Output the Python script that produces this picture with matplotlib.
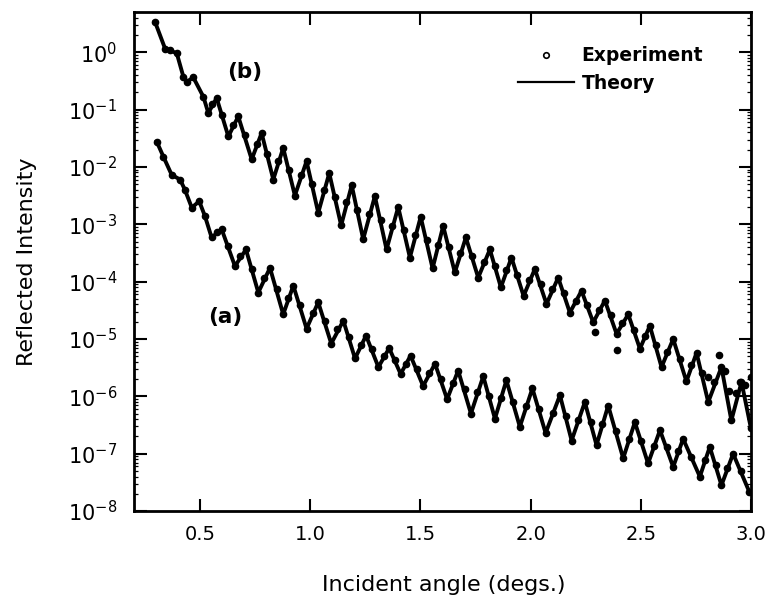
import numpy as np
import matplotlib
matplotlib.use("Agg")
from matplotlib import pyplot as plt
from matplotlib.lines import Line2D
from matplotlib.ticker import LogLocator

plt.rcParams['font.family'] = ['DejaVu Sans']
plt.rcParams['mathtext.fontset'] = 'dejavusans'

# curve (b): theory, angle (degs) and log10 of reflected intensity
b_x = [0.295, 0.341, 0.363, 0.394, 0.424, 0.439, 0.469, 0.515, 0.537,
       0.575, 0.628, 0.673, 0.734, 0.779, 0.832, 0.877, 0.930, 0.983, 1.036,
       1.086, 1.140, 1.188, 1.240, 1.293, 1.346, 1.399, 1.452, 1.501, 1.555,
       1.603, 1.656, 1.706, 1.762, 1.815, 1.865, 1.913, 1.968, 2.019, 2.072,
       2.125, 2.178, 2.231, 2.284, 2.337, 2.390, 2.443, 2.496, 2.541, 2.594,
       2.647, 2.707, 2.753, 2.806, 2.866, 2.911, 2.957, 3.000]
b_log = [0.53, 0.06, 0.03, -0.02, -0.43, -0.52, -0.44, -0.78, -1.06,
         -0.80, -1.47, -1.12, -1.87, -1.41, -2.22, -1.67, -2.50, -1.90, -2.80,
         -2.11, -3.02, -2.32, -3.26, -2.51, -3.44, -2.70, -3.58, -2.87, -3.77,
         -3.03, -3.84, -3.23, -3.93, -3.44, -4.10, -3.58, -4.25, -3.78, -4.39,
         -3.93, -4.54, -4.16, -4.71, -4.33, -4.91, -4.57, -5.17, -4.77, -5.49,
         -5.00, -5.74, -5.24, -6.10, -5.49, -6.42, -5.75, -6.56]

# curve (b): extra experimental points along the slopes and scattered ones
b_exp_x = [0.556, 0.601, 0.650, 0.703, 0.756, 0.805, 0.854, 0.903, 0.956,
           1.009, 1.061, 1.113, 1.164, 1.214, 1.266, 1.320, 1.372, 1.425,
           1.476, 1.528, 1.579, 1.630, 1.681, 1.734, 1.788, 1.840, 1.889,
           1.940, 1.993, 2.045, 2.098, 2.151, 2.204, 2.257, 2.310, 2.363,
           2.416, 2.469, 2.518, 2.567, 2.620, 2.677, 2.730, 2.780,
           2.290, 2.390, 2.806, 2.830, 2.854, 2.880, 2.900, 2.930, 2.950,
           2.975, 3.000]
b_exp_log = [-0.90, -1.10, -1.27, -1.45, -1.60, -1.78, -1.90, -2.05, -2.15,
             -2.30, -2.40, -2.52, -2.62, -2.75, -2.83, -2.93, -3.03, -3.10,
             -3.18, -3.27, -3.36, -3.40, -3.50, -3.55, -3.65, -3.73, -3.80,
             -3.88, -3.98, -4.05, -4.13, -4.20, -4.33, -4.41, -4.50, -4.59,
             -4.72, -4.85, -4.94, -5.10, -5.22, -5.35, -5.46, -5.60,
             -4.87, -5.20, -5.67, -5.75, -5.28, -5.55, -5.90, -5.95, -5.75,
             -5.80, -5.66]

# curve (a): theory
a_x = [0.303, 0.333, 0.371, 0.409, 0.431, 0.462, 0.496, 0.522, 0.552,
       0.598, 0.658, 0.708, 0.764, 0.817, 0.877, 0.923, 0.983, 1.036, 1.095,
       1.150, 1.203, 1.253, 1.309, 1.358, 1.410, 1.455, 1.512, 1.566, 1.621,
       1.671, 1.729, 1.785, 1.838, 1.890, 1.951, 2.008, 2.068, 2.133, 2.186,
       2.246, 2.299, 2.352, 2.420, 2.473, 2.533, 2.587, 2.647, 2.692, 2.768,
       2.813, 2.866, 2.919, 2.992]
a_log = [-1.56, -1.82, -2.14, -2.22, -2.40, -2.71, -2.60, -2.86, -3.23,
         -3.09, -3.73, -3.44, -4.19, -3.76, -4.57, -4.07, -4.82, -4.36, -5.08,
         -4.68, -5.34, -4.94, -5.49, -5.16, -5.61, -5.29, -5.82, -5.43, -6.05,
         -5.55, -6.30, -5.65, -6.39, -5.72, -6.53, -5.86, -6.64, -5.98, -6.77,
         -6.10, -6.85, -6.16, -7.08, -6.45, -7.17, -6.59, -7.23, -6.74, -7.40,
         -6.88, -7.55, -7.00, -7.66]

a_exp_x = [0.575, 0.628, 0.683, 0.736, 0.790, 0.847, 0.900, 0.953, 1.010,
           1.066, 1.123, 1.177, 1.228, 1.281, 1.334, 1.384, 1.433, 1.484,
           1.539, 1.594, 1.646, 1.700, 1.757, 1.812, 1.864, 1.920, 1.980,
           2.038, 2.100, 2.160, 2.216, 2.272, 2.326, 2.386, 2.447, 2.503,
           2.560, 2.617, 2.670, 2.730, 2.790, 2.840, 2.893, 2.955]
a_exp_log = [-3.13, -3.38, -3.55, -3.78, -3.93, -4.12, -4.28, -4.40, -4.55,
             -4.68, -4.83, -4.96, -5.10, -5.18, -5.30, -5.36, -5.43, -5.52,
             -5.60, -5.70, -5.77, -5.88, -5.93, -6.00, -6.03, -6.10, -6.17,
             -6.22, -6.29, -6.35, -6.41, -6.45, -6.48, -6.60, -6.74, -6.78,
             -6.86, -6.89, -6.96, -7.05, -7.11, -7.20, -7.25, -7.30]

fig = plt.figure(figsize=(7.77, 6.02), dpi=100)
ax = fig.add_axes([0.1725, 0.151, 0.794, 0.829])
ax.set_yscale('log')

for tx, ty, ex, ey in [(b_x, b_log, b_exp_x, b_exp_log),
                       (a_x, a_log, a_exp_x, a_exp_log)]:
    ax.plot(tx, 10.0 ** np.array(ty), color='black', lw=2.8, zorder=2)
    px = list(tx) + list(ex)
    py = 10.0 ** np.array(list(ty) + list(ey))
    ax.plot(px, py, ls='none', marker='o', ms=4.5, mfc='black',
            mec='black', mew=1.0, zorder=3)

ax.set_xlim(0.2, 3.0)
ax.set_ylim(1e-8, 5)
ax.set_xticks([0.5, 1.0, 1.5, 2.0, 2.5, 3.0])
ax.set_xticklabels(['0.5', '1.0', '1.5', '2.0', '2.5', '3.0'])
ax.yaxis.set_major_locator(LogLocator(base=10, numticks=20))
ax.yaxis.set_minor_locator(LogLocator(base=10, subs=np.arange(2, 10), numticks=20))

ax.tick_params(which='both', direction='in', top=True, right=True)
ax.tick_params(axis='x', labelsize=14, pad=10)
ax.tick_params(axis='y', labelsize=15, pad=12)
ax.tick_params(which='major', length=9, width=1.5)
ax.tick_params(which='minor', length=3, width=0.9)
for s in ax.spines.values():
    s.set_linewidth(2.0)

ax.set_xlabel('Incident angle (degs.)', fontsize=16)
ax.set_ylabel('Reflected Intensity', fontsize=16)
ax.xaxis.set_label_coords(0.502, -0.128)
ax.yaxis.set_label_coords(-0.158, 0.5)

ax.text(0.704, 10 ** -0.35, '(b)', fontsize=15.5, fontweight='bold',
        ha='center', va='center')
ax.text(0.613, 10 ** -4.62, '(a)', fontsize=15.5, fontweight='bold',
        ha='center', va='center')

handles = [Line2D([], [], ls='none', marker='o', ms=4, mfc='white',
                  mec='black', mew=1.2),
           Line2D([], [], color='black', lw=1.6)]
ax.legend(handles, ['Experiment', 'Theory'], loc='upper right',
          bbox_to_anchor=(0.95, 0.965), frameon=False, handlelength=3.0,
          handletextpad=0.4, labelspacing=0.45,
          prop={'size': 13.5, 'weight': 'bold'})

fig.savefig('out.png', dpi=100)
